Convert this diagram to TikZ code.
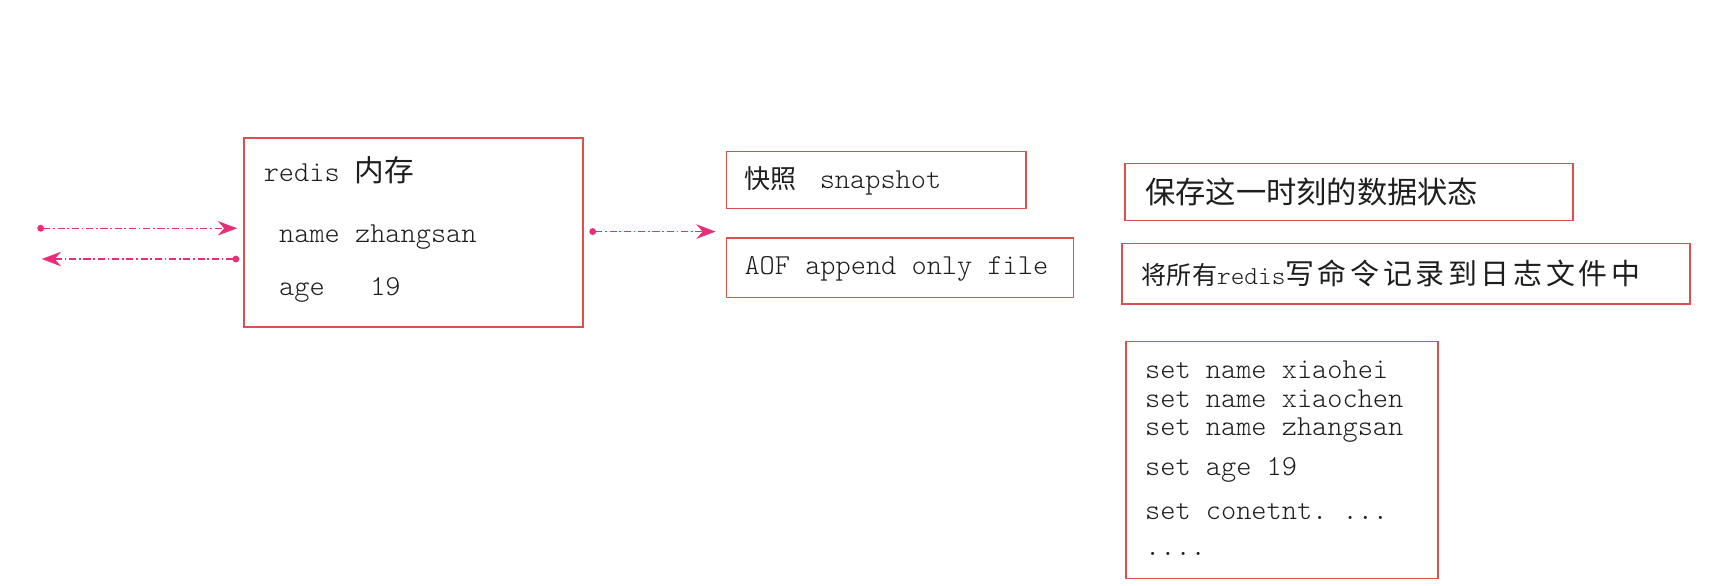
\documentclass[tikz,border=0pt]{standalone}
\usepackage{fontspec}
\setmonofont{Latin Modern Mono Light}
\newfontfamily\cjk{Noto Sans CJK SC}
\usetikzlibrary{arrows.meta}
\definecolor{boxred}{RGB}{222,78,78}
\definecolor{linkpink}{RGB}{232,46,120}
\definecolor{ink}{RGB}{30,30,30}

\begin{document}
\begin{tikzpicture}[x=0.02cm,y=-0.02cm,
  box/.style={draw=boxred,line width=0.85pt,inner sep=0pt,outer sep=0pt},
  txt/.style={anchor=west,inner sep=0pt,text=ink,font=\fontsize{15}{17}\selectfont\ttfamily},
  link/.style={linkpink,line width=0.8pt,dash pattern=on 3.7pt off 1.4pt on 0.9pt off 1.4pt,
    {Circle[length=3.5pt]}-{Stealth[length=10pt,width=7.5pt]}}]
  \useasboundingbox (0,0) rectangle (1568,533);
  % boxes
  \node[box,minimum width=6.18cm,minimum height=3.44cm] (mem) at (376.5,212) {};
  \node[box,minimum width=5.46cm,minimum height=1.04cm] (snap) at (798.5,164) {};
  \node[box,minimum width=6.32cm,minimum height=1.08cm] (aof) at (820,244) {};
  \node[box,minimum width=8.16cm,minimum height=1.04cm] (state) at (1229,175) {};
  \node[box,minimum width=10.36cm,minimum height=1.1cm] (log) at (1281,249.5) {};
  \node[box,minimum width=5.68cm,minimum height=4.32cm] (cmds) at (1168,419) {};
  % texts
  \node[txt] (memT) at (240,155) {redis {\cjk\fontsize{15.4}{18}\selectfont 内存}};
  \node[txt] (nameT) at (254,216) {name zhangsan};
  \node[txt] (ageT) at (254,264) {age\ \ \ 19};
  \node[txt] (snapT) at (678,165) {{\cjk\fontsize{13.5}{16}\selectfont 快照}\hspace{12pt}snapshot};
  \node[txt] (aofT) at (678,245) {AOF append only file};
  \node[txt,font=\cjk\fontsize{15.7}{18}\selectfont] (stateT) at (1043,175) {保存这一时刻的数据状态};
  \node[txt,font=\fontsize{13}{16}\selectfont] (logT) at (1040,249) {{\cjk 将所有}{\ttfamily\fontsize{13.5}{16}\selectfont redis}{%
    \cjk\fontsize{15}{18}\selectfont 写\hspace{1.9pt}命\hspace{1.9pt}令\hspace{1.9pt}记\hspace{1.9pt}录\hspace{1.9pt}到\hspace{1.9pt}日\hspace{1.9pt}志\hspace{1.9pt}文\hspace{1.9pt}件\hspace{1.9pt}中}};
  \node[txt,align=left,font=\fontsize{15}{14.8}\selectfont\ttfamily] (cmdN) at (1043,366)
    {set name xiaohei\\set name xiaochen\\set name zhangsan};
  \node[txt] (cmdA) at (1043,428) {set age 19};
  \node[txt] (cmdC) at (1043,466) {set conetnt. ...};
  \node[txt] (cmdD) at (1043,505) {....};
  % arrows
  \coordinate (inA) at (34,208);
  \coordinate (outA) at (38,236);
  \coordinate (store) at (652,211);
  \draw[link,shorten >=3.4pt] (inA) -- (inA -| mem.west);
  \draw[link,shorten <=2.3pt] (outA -| mem.west) -- (outA);
  \draw[link,shorten <=3.4pt] (mem.east |- store) -- (store);
\end{tikzpicture}
\end{document}
